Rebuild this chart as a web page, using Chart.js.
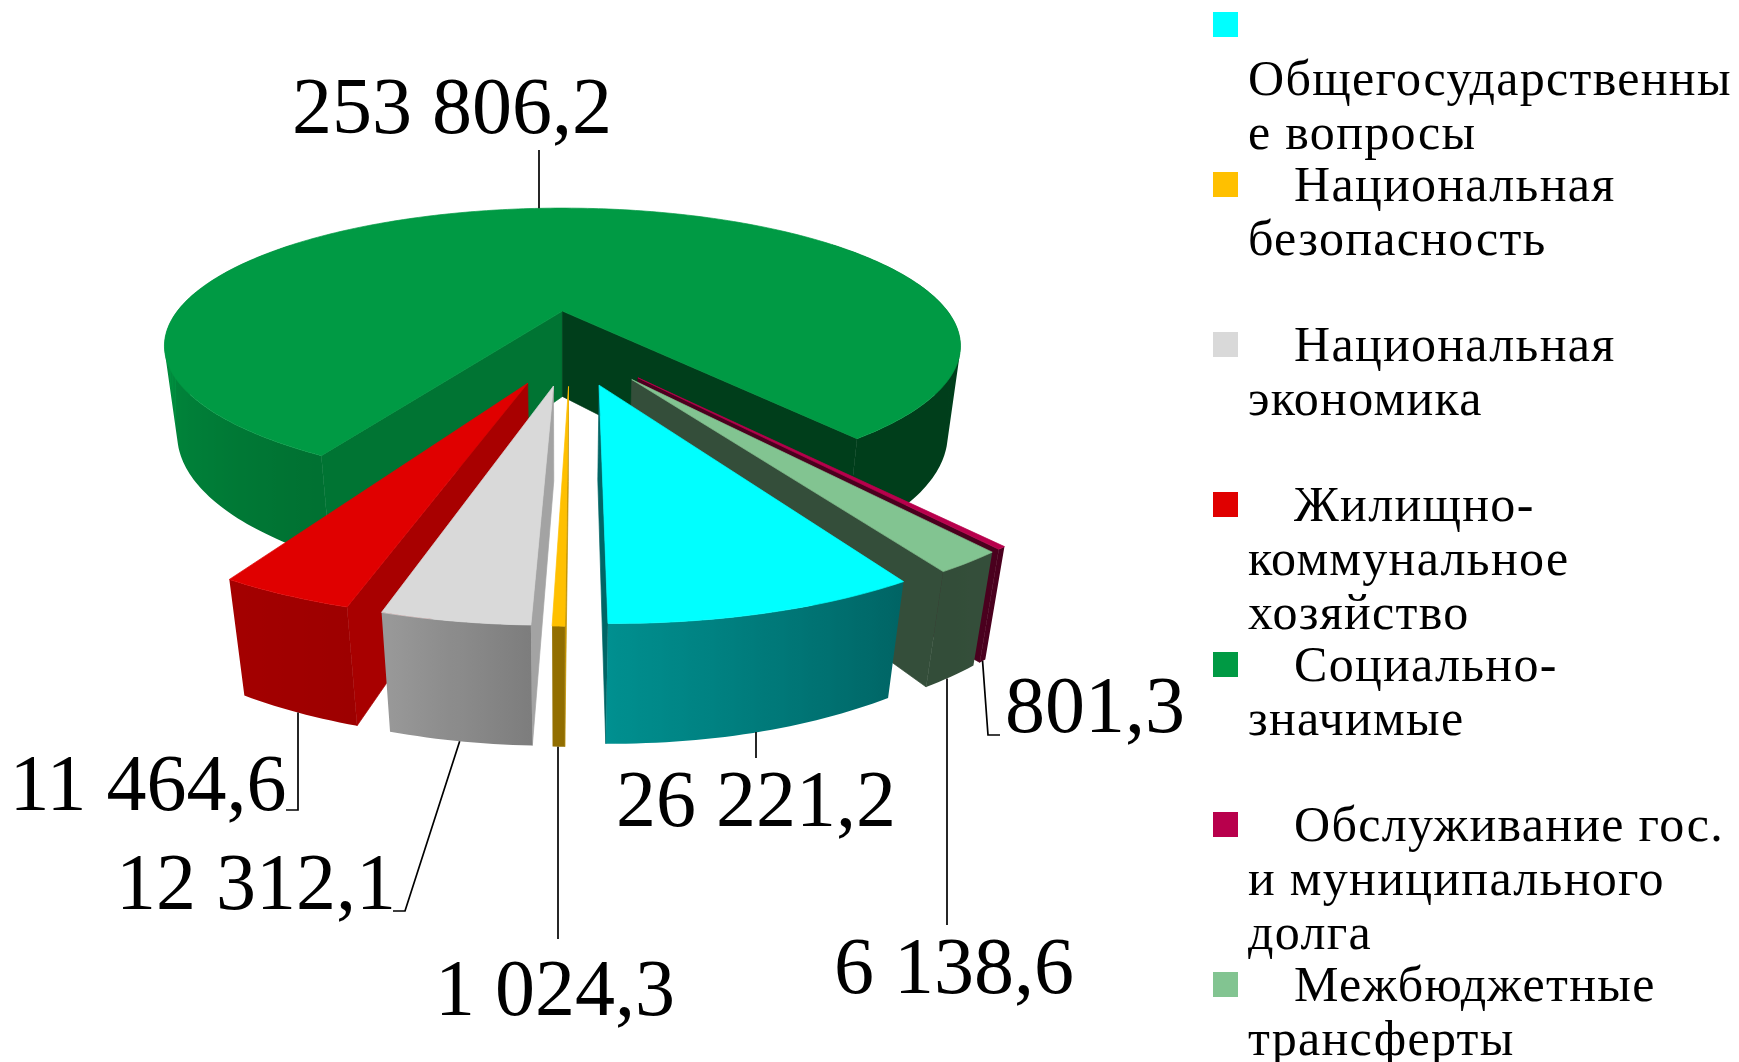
<!DOCTYPE html>
<html>
<head>
<meta charset="utf-8">
<script src="https://cdn.jsdelivr.net/npm/chart.js@4/dist/chart.umd.js"></script>
<style>
    html, body { margin: 0; padding: 0; background: #fff; }
    #wrap { width: 1739px; height: 1062px; }
</style>
</head>
<body>
<div id="wrap"><canvas id="pie3d" width="1739" height="1062"></canvas></div>
<script>
const categories = ['Общегосударственные вопросы', 'Национальная безопасность', 'Национальная экономика', 'Жилищно-коммунальное хозяйство', 'Социально-значимые', 'Обслуживание гос. и муниципального долга', 'Межбюджетные трансферты'];
const values = [26221.2, 1024.3, 12312.1, 11464.6, 253806.2, 801.3, 6138.6];
const colors = ['#00ffff', '#ffc000', '#d9d9d9', '#e00000', '#009a44', '#b8004c', '#82c491'];
const legendLines = [
    ['', 'Общегосударственны', 'е вопросы'],
    ['Национальная', 'безопасность'],
    ['Национальная', 'экономика'],
    ['Жилищно-', 'коммунальное', 'хозяйство'],
    ['Социально-', 'значимые'],
    ['Обслуживание гос.', 'и муниципального', 'долга'],
    ['Межбюджетные', 'трансферты']
];
// подпись: центр текста, базовая линия, и куда идет выноска
const labelPos = [[756, 826], [555, 1015], [256, 909], [148, 810], [452, 133], [1095, 732], [954, 993]];
const leaderEnds = [
    [[756, 758]],
    [[558, 939]],
    [[405, 911], [393, 911]],
    [[298, 810], [286, 810]],
    [[539, 150]],
    [[988, 735], [1000, 735]],
    [[947, 925]]
];
const verticalLeaders = [0, 1, 3, 4, 6];
// светлота боковой стенки в зависимости от угла
const wallShade = [[0, 0.42], [146, 0.4], [150, 0.39], [180, 0.56], [195, 0.7], [209, 0.73], [270, 0.95], [360, 0.95]];

const VIEW = { x0: 562, y0: 311, P: 385, K: 129, u: 0.253, V: 88, q: 0.031, zRef: 0.255, xRef: 0.02 };

function project(x, z, h) {
    const xx = x + VIEW.xRef;
    const zz = z + VIEW.zRef;
    const w = 1 - zz * VIEW.u + VIEW.q * h;
    return [VIEW.x0 + VIEW.P * xx / w, VIEW.y0 + (VIEW.K * zz + VIEW.V * h) / w];
}

function shadeColor(hex, f) {
    const n = parseInt(hex.slice(1), 16);
    const r = Math.round((n >> 16 & 255) * f);
    const g = Math.round((n >> 8 & 255) * f);
    const b = Math.round((n & 255) * f);
    return 'rgb(' + r + ',' + g + ',' + b + ')';
}

function wallFactor(deg) {
    const a = ((deg % 360) + 360) % 360;
    for (let i = 1; i < wallShade.length; i++) {
        if (a <= wallShade[i][0]) {
            const p = wallShade[i - 1];
            const n = wallShade[i];
            return p[1] + (n[1] - p[1]) * (a - p[0]) / (n[0] - p[0]);
        }
    }
    return 1;
}

function poly(ctx, pts, fill) {
    ctx.beginPath();
    pts.forEach((p, i) => i ? ctx.lineTo(p[0], p[1]) : ctx.moveTo(p[0], p[1]));
    ctx.closePath();
    ctx.fillStyle = fill;
    ctx.strokeStyle = fill;
    ctx.lineWidth = 0.7;
    ctx.fill();
    ctx.stroke();
}

function polyArea(pts) {
    let sum = 0;
    pts.forEach((p, i) => {
        const q = pts[(i + 1) % pts.length];
        sum += p[0] * q[1] - q[0] * p[1];
    });
    return sum;
}

// геометрия сектора из элемента Chart.js
function arcGeom(arc) {
    const R = arc.outerRadius;
    const mid = (arc.startAngle + arc.endAngle) / 2;
    const off = arc.options.offset / R;
    return { s: arc.startAngle, e: arc.endAngle, mid: mid, ox: Math.cos(mid) * off, oz: Math.sin(mid) * off };
}

function rimPoint(g, a, h) {
    return project(g.ox + Math.cos(a), g.oz + Math.sin(a), h);
}

// полоса стенки: градиент считаем только по передней части дуги
function drawWallRun(ctx, g, angles, base) {
    if (angles.length < 2) return;
    const front = angles.filter(a => Math.sin(a) >= 0);
    const shadeAt = a => shadeColor(base, wallFactor(a * 180 / Math.PI + 90));
    let fill = shadeAt(angles[0]);
    if (front.length > 1) {
        const xs = front.map(a => rimPoint(g, a, 0)[0]);
        const minX = Math.min.apply(null, xs);
        const maxX = Math.max.apply(null, xs);
        if (maxX - minX > 1) {
            const grad = ctx.createLinearGradient(minX, 0, maxX, 0);
            front.forEach((a, k) => grad.addColorStop((xs[k] - minX) / (maxX - minX), shadeAt(a)));
            fill = grad;
        }
    }
    // все четырехугольники одним путем, чтобы не было швов
    ctx.beginPath();
    for (let k = 0; k < angles.length - 1; k++) {
        let quad = [rimPoint(g, angles[k], 0), rimPoint(g, angles[k + 1], 0), rimPoint(g, angles[k + 1], 1), rimPoint(g, angles[k], 1)];
        if (polyArea(quad) < 0) quad = quad.reverse();
        quad.forEach((p, n) => n ? ctx.lineTo(p[0], p[1]) : ctx.moveTo(p[0], p[1]));
        ctx.closePath();
    }
    ctx.fillStyle = fill;
    ctx.fill('nonzero');
}

function leaderStart(g, i) {
    const h = i === 4 ? 0 : 1;
    const end = leaderEnds[i][0];
    const mid = rimPoint(g, g.mid, h);
    if (!verticalLeaders.includes(i)) return mid;
    // вертикальная выноска: берем точку дуги под концом линии
    const span = g.e - g.s;
    const range = span > Math.PI ? span * 0.1 : span / 2;
    let best = mid;
    for (let k = -30; k <= 30; k++) {
        const p = rimPoint(g, g.mid + range * k / 30, h);
        if (Math.abs(p[0] - end[0]) < Math.abs(best[0] - end[0])) best = p;
    }
    return Math.abs(best[0] - end[0]) < 6 ? [end[0], best[1]] : best;
}

const pie3dPlugin = {
    id: 'pie3d',
    beforeDatasetDraw(chart, args) {
        const ctx = chart.ctx;
        const arcs = chart.getDatasetMeta(args.index).data;
        const order = arcs.map((a, i) => i).sort((i, j) => {
            return Math.sin(arcGeom(arcs[i]).mid) - Math.sin(arcGeom(arcs[j]).mid);
        });
        ctx.save();
        order.forEach(i => {
            const g = arcGeom(arcs[i]);
            const base = colors[i];
            const a0 = project(g.ox, g.oz, 0);
            const a1 = project(g.ox, g.oz, 1);
            const steps = Math.max(2, Math.ceil((g.e - g.s) / (Math.PI / 180)));
            // внутренние грани, только видимые
            const startFace = [a0, rimPoint(g, g.s, 0), rimPoint(g, g.s, 1), a1];
            const endFace = [a0, rimPoint(g, g.e, 0), rimPoint(g, g.e, 1), a1];
            if (polyArea(startFace) < 0) poly(ctx, startFace, shadeColor(base, 0.75));
            if (polyArea(endFace) > 0) poly(ctx, endFace, shadeColor(base, 0.4));
            // внешняя стенка, задняя часть все равно закрыта верхом
            let run = [];
            for (let k = 0; k <= steps; k++) {
                const t = g.s + (g.e - g.s) * k / steps;
                if (Math.sin(t) < -0.6) {
                    drawWallRun(ctx, g, run, base);
                    run = [];
                } else {
                    run.push(t);
                }
            }
            drawWallRun(ctx, g, run, base);
            // верх
            const top = [a0];
            for (let k = 0; k <= steps; k++) {
                top.push(rimPoint(g, g.s + (g.e - g.s) * k / steps, 0));
            }
            poly(ctx, top, base);
        });
        ctx.restore();
        return false;
    },
    afterDraw(chart) {
        const ctx = chart.ctx;
        const arcs = chart.getDatasetMeta(0).data;
        ctx.save();
        // выноски и подписи значений
        ctx.strokeStyle = '#000';
        ctx.lineWidth = 1.7;
        arcs.forEach((arc, i) => {
            const start = leaderStart(arcGeom(arc), i);
            ctx.beginPath();
            ctx.moveTo(start[0], start[1]);
            leaderEnds[i].forEach(p => ctx.lineTo(p[0], p[1]));
            ctx.stroke();
        });
        ctx.fillStyle = '#000';
        ctx.textAlign = 'center';
        ctx.textBaseline = 'alphabetic';
        ctx.font = '80px "Liberation Serif"';
        values.forEach((v, i) => {
            const txt = v.toFixed(1).replace('.', ',').replace(/\B(?=(\d{3})+(?!\d))/g, ' ');
            ctx.fillText(txt, labelPos[i][0], labelPos[i][1]);
        });
        // легенда
        ctx.textAlign = 'left';
        ctx.font = '50px "Liberation Serif"';
        ctx.letterSpacing = '1.3px';
        legendLines.forEach((lines, i) => {
            const top = 12 + i * 160;
            ctx.fillStyle = colors[i];
            ctx.fillRect(1213, top, 25, 25);
            ctx.fillStyle = '#000';
            lines.forEach((line, k) => {
                ctx.fillText(line, k === 0 ? 1294 : 1248, top + 29 + k * 54);
            });
        });
        ctx.restore();
    }
};

new Chart(document.getElementById('pie3d'), {
    type: 'pie',
    data: {
        labels: categories,
        datasets: [{
            data: values,
            backgroundColor: colors,
            borderWidth: 0,
            offset: 102
        }]
    },
    options: {
        responsive: false,
        animation: false,
        rotation: 150.3,
        radius: 400,
        events: [],
        plugins: {
            legend: { display: false },
            tooltip: { enabled: false }
        }
    },
    plugins: [pie3dPlugin]
});
</script>
</body>
</html>
